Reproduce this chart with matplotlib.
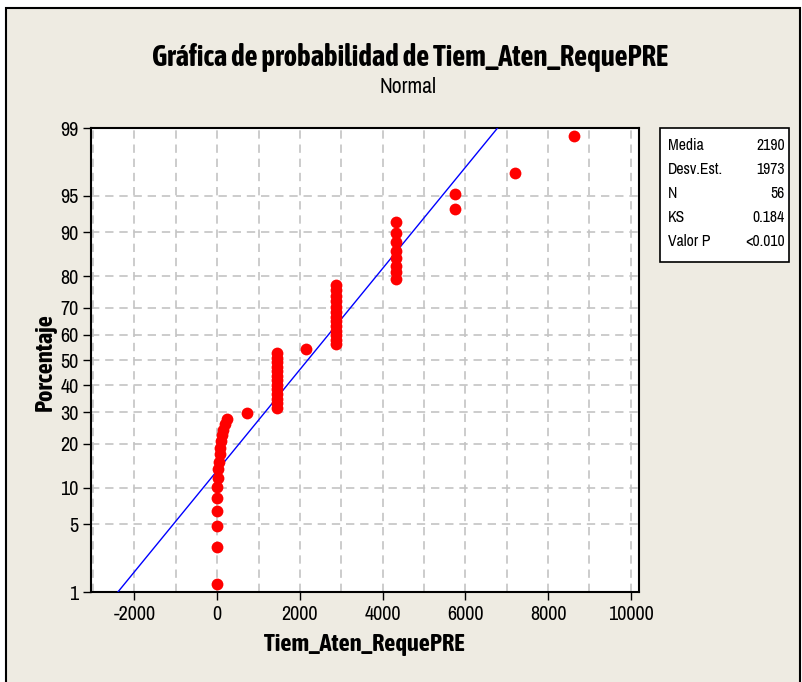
#!/usr/bin/env python3
"""Minitab-style normal probability plot of Tiem_Aten_RequePRE."""
from statistics import NormalDist

import numpy as np
import matplotlib
matplotlib.use("Agg")
import matplotlib.pyplot as plt
from matplotlib import font_manager
from matplotlib.patches import Rectangle
from matplotlib.ticker import MultipleLocator

valores = [0, 15, 30, 45, 60, 80, 100, 120, 150, 180, 240, 720, 1440, 2160,
           2880, 4320, 5760, 7200, 8640]
repeticiones = [6, 1, 1, 1, 1, 1, 1, 1, 1, 1, 1, 1, 13, 1, 13, 8, 2, 1, 1]

# summary box shown next to the plot
media = 2190
desv_est = 1973
stats_labels = ["Media", "Desv.Est.", "N", "KS", "Valor P"]
stats_values = ["2190", "1973", "56", "0.184", "<0.010"]

pct_ticks = [1, 5, 10, 20, 30, 40, 50, 60, 70, 80, 90, 95, 99]
x_ticks = [-2000, 0, 2000, 4000, 6000, 8000, 10000]


def _w(v):
    try:
        return int(v)
    except (TypeError, ValueError):
        return font_manager.weight_dict.get(v, 400)


# pick a narrow family, preferably one that also has a bold face
fam_w = {}
for f in font_manager.fontManager.ttflist:
    if "Narrow" in f.name or "Condensed" in f.name:
        fam_w.setdefault(f.name, set()).add(_w(f.weight))
narrow = sorted(fam_w)
narrow_bold = [n for n in narrow if max(fam_w[n]) >= 600]
REG = narrow[:1] + ["Liberation Sans", "DejaVu Sans"]
BOLD = narrow_bold[:1] + ["Liberation Sans", "DejaVu Sans"]
plt.rcParams["font.family"] = REG

nd = NormalDist()
_fwd = np.vectorize(lambda v: nd.inv_cdf(min(max(v, 1e-9), 100 - 1e-9) / 100), otypes=[float])
_inv = np.vectorize(lambda v: nd.cdf(v) * 100, otypes=[float])


def fwd(p):
    return _fwd(np.asarray(p, dtype=float))


def inv(z):
    return _inv(np.asarray(z, dtype=float))


def fit(fig, t, target, vertical=False):
    # scale a text so its rendered extent matches the reference
    r = fig.canvas.get_renderer()
    for _ in range(2):
        bb = t.get_window_extent(r)
        size = bb.height if vertical else bb.width
        t.set_fontsize(t.get_fontsize() * target / size)


def main():
    x = np.sort(np.repeat(valores, repeticiones))
    n = len(x)
    rank = np.arange(1, n + 1)
    pct = (rank - 0.3) / (n + 0.4) * 100  # median ranks, as Minitab does

    W, H = 803, 682
    fig = plt.figure(figsize=(W / 100, H / 100), dpi=100, facecolor="white")
    fig.patches.append(Rectangle((6 / W, -0.02), (800 - 6) / W, 1 - 8 / H + 0.02,
                                 transform=fig.transFigure, facecolor="#EEEBE2",
                                 edgecolor="black", lw=1.5, zorder=-10))

    ax = fig.add_axes([91 / W, 1 - 592 / H, (639 - 91) / W, (592 - 128) / H])
    ax.set_facecolor("white")
    ax.set_yscale("function", functions=(fwd, inv))
    ax.set_ylim(1, 99)
    ax.set_xlim(-3050, 10200)

    # tick label size from the width of "10000" (about 46 px in the reference)
    fig.canvas.draw()
    probe = fig.text(0, 0, "10000", fontsize=12)
    fit(fig, probe, 46)
    tick_fs = probe.get_fontsize()
    probe.remove()

    grid_kw = dict(color="#C4C4C4", linestyle=(0, (5, 3.5)), linewidth=1.2)
    ax.set_yticks(pct_ticks)
    ax.set_yticklabels([str(t) for t in pct_ticks])
    ax.set_yticks([], minor=True)
    ax.set_xticks(x_ticks)
    ax.set_xticklabels([str(t) for t in x_ticks])
    ax.xaxis.set_minor_locator(MultipleLocator(1000))
    ax.grid(True, axis="y", which="major", **grid_kw)
    ax.grid(True, axis="x", which="both", **grid_kw)
    ax.set_axisbelow(True)

    ax.tick_params(axis="both", which="major", direction="out", length=6, width=1,
                   labelsize=tick_fs, color="black", pad=3)
    ax.tick_params(axis="x", which="minor", length=0)
    for s in ax.spines.values():
        s.set_linewidth(1.5)

    # fitted normal line
    pl = np.array([0.5, 99.5])
    ax.plot(media + desv_est * fwd(pl), pl, color="#0000FF", lw=1.0, zorder=3)
    ax.plot(x, pct, "o", color="#FF0000", markersize=8.5, markeredgewidth=0, zorder=4)

    xl = fig.text(364 / W, 1 - 645 / H, "Tiem_Aten_RequePRE", ha="center", va="center",
                  fontsize=14, fontweight="bold", family=BOLD)
    tt = fig.text(410 / W, 1 - 57 / H, "Gráfica de probabilidad de Tiem_Aten_RequePRE",
                  ha="center", va="center", fontsize=18, fontweight="bold", family=BOLD)
    st = fig.text(408 / W, 1 - 87 / H, "Normal", ha="center", va="center", fontsize=13)
    fit(fig, tt, 515)
    fit(fig, st, 57)
    fit(fig, xl, 200)
    fig.text(45 / W, 1 - 362 / H, "Porcentaje", ha="center", va="center",
             rotation=90, fontsize=xl.get_fontsize(), fontweight="bold", family=BOLD)

    # stats box
    fig.patches.append(Rectangle((660 / W, 1 - 262 / H), (789 - 660) / W, (262 - 128) / H,
                                 transform=fig.transFigure, facecolor="white",
                                 edgecolor="black", lw=1.2))
    probe = fig.text(0, 0, "Desv.Est.", fontsize=11)
    fit(fig, probe, 55)
    box_fs = probe.get_fontsize()
    probe.remove()
    for k, (lab, val) in enumerate(zip(stats_labels, stats_values)):
        yy = 1 - (146 + 24 * k) / H
        fig.text(668 / W, yy, lab, ha="left", va="center", fontsize=box_fs)
        fig.text(785 / W, yy, val, ha="right", va="center", fontsize=box_fs)

    fig.savefig("out.png", dpi=100)


if __name__ == "__main__":
    main()
